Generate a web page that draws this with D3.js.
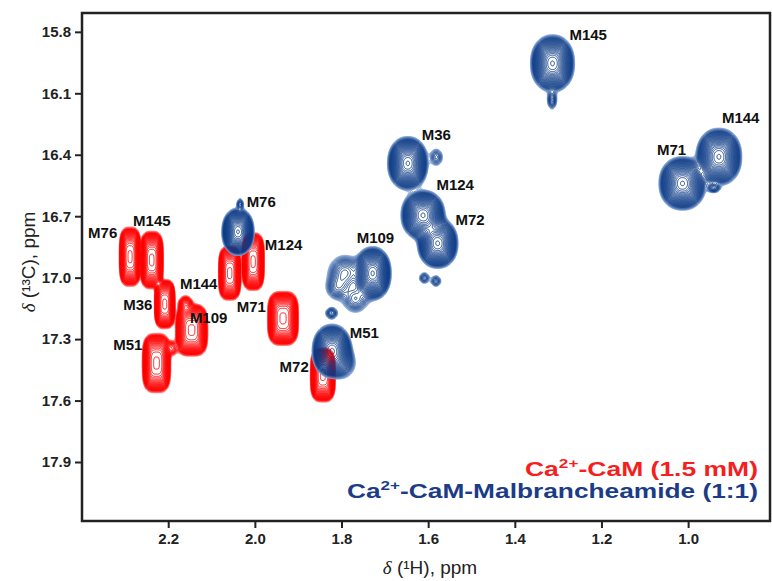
<!DOCTYPE html>
<html lang="en">
<head>
<meta charset="UTF-8">
<title>1H-13C methyl spectra</title>
<script src="https://cdnjs.cloudflare.com/ajax/libs/d3/7.8.5/d3.min.js"></script>
<style>
  body { margin: 0; background: #fff; }
  svg { display: block; font-family: "Liberation Sans", Arial, sans-serif; }
</style>
</head>
<body>
<svg id="chart" width="772" height="581"></svg>
<script>
// Peak labels (same order for both spectra)
var peakLabels = ["M76", "M145", "M36", "M109", "M51", "M144", "M124", "M71", "M72"];

// Ca2+-CaM (red): peak centres in ppm, full widths in ppm
var redH      = [2.288, 2.238, 2.208, 2.146, 2.227, 2.058, 2.004, 1.935, 1.843];
var redC      = [16.898, 16.914, 17.129, 17.256, 17.417, 16.978, 16.922, 17.199, 17.475];
var redWidthH = [0.050, 0.054, 0.048, 0.075, 0.066, 0.052, 0.052, 0.072, 0.058];
var redWidthC = [0.290, 0.282, 0.240, 0.255, 0.290, 0.265, 0.282, 0.265, 0.265];
var redLabelH = [2.385, 2.281, 2.304, 2.150, 2.327, 2.173, 1.977, 2.042, 1.943];
var redLabelC = [16.807, 16.748, 17.158, 17.222, 17.353, 17.053, 16.865, 17.168, 17.461];

// Ca2+-CaM-Malbrancheamide (blue)
var blueH      = [2.039, 1.313, 1.647, 1.728, 1.822, 0.929, 1.612, 1.013, 1.578];
var blueC      = [16.776, 15.954, 16.442, 16.979, 17.358, 16.410, 16.695, 16.540, 16.833];
var blueWidthH = [0.075, 0.102, 0.094, 0.086, 0.092, 0.106, 0.102, 0.109, 0.094];
var blueWidthC = [0.232, 0.280, 0.262, 0.262, 0.262, 0.280, 0.244, 0.262, 0.244];
var blueLabelH = [2.019, 1.274, 1.615, 1.765, 1.781, 0.922, 1.581, 1.072, 1.537];
var blueLabelC = [16.656, 15.841, 16.329, 16.831, 17.295, 16.246, 16.573, 16.402, 16.743];

// weak unlabeled signals
var redMinorH = [2.160, 2.191];
var redMinorC = [17.130, 17.344];
var redMinorWidthH = [0.045, 0.040];
var redMinorWidthC = [0.110, 0.110];
var redMinorAmp = [0.25, 0.15];
var blueMinorH = [1.792, 1.768, 1.810, 1.823, 1.314, 2.034, 0.941, 1.609, 1.582, 1.581, 1.795];
var blueMinorC = [16.975, 17.105, 17.050, 17.173, 16.134, 16.640, 16.563, 17.002, 17.017, 16.412, 17.420];
var blueMinorWidthH = [0.110, 0.090, 0.080, 0.045, 0.035, 0.025, 0.045, 0.040, 0.040, 0.050, 0.090];
var blueMinorWidthC = [0.240, 0.200, 0.180, 0.090, 0.140, 0.090, 0.070, 0.090, 0.090, 0.140, 0.220];
var blueMinorAmp = [0.18, 0.14, 0.12, 0.12, 0.12, 0.10, 0.12, 0.10, 0.10, 0.10, 0.10];

var xTicks = [2.2, 2.0, 1.8, 1.6, 1.4, 1.2, 1.0];
var yTicks = [15.8, 16.1, 16.4, 16.7, 17.0, 17.3, 17.6, 17.9];

var svg = d3.select('#chart');
var margin = { left: 82, top: 13, right: 2, bottom: 60 };
var W = 772 - margin.left - margin.right;
var H = 581 - margin.top - margin.bottom;

// ppm axes run backwards, as usual for NMR
var x = d3.scaleLinear().domain([2.399, 0.811]).range([0, W]);
var y = d3.scaleLinear().domain([15.708, 18.188]).range([0, H]);

var plot = svg.append('g').attr('transform', 'translate(' + margin.left + ',' + margin.top + ')');

svg.append('defs').append('clipPath').attr('id', 'clip')
    .append('rect').attr('width', W).attr('height', H);

// contour levels, geometric like a spectrum viewer
var nLevels = 34, low = 0.035, step = Math.pow(0.985 / low, 1 / (nLevels - 1));
var levels = d3.range(nLevels).map(function (k) { return low * Math.pow(step, k); });

function buildField(h, c, wh, wc, amp, p) {
    var vals = new Float64Array(W * H);
    var k = Math.pow(Math.log(1 / low), 1 / p);
    h.forEach(function (hv, i) {
        var cx = x(hv), cy = y(c[i]);
        var ax = Math.abs(x(hv + wh[i] / 2) - cx) / k;
        var ay = Math.abs(y(c[i] + wc[i] / 2) - cy) / k;
        var a = amp[i];
        var x0 = Math.max(0, Math.floor(cx - ax * 4)), x1 = Math.min(W - 1, Math.ceil(cx + ax * 4));
        var y0 = Math.max(0, Math.floor(cy - ay * 4)), y1 = Math.min(H - 1, Math.ceil(cy + ay * 4));
        for (var j = y0; j <= y1; j++) {
            var v = Math.pow(Math.abs((j + 0.5 - cy) / ay), p);
            for (var q = x0; q <= x1; q++) {
                var u = Math.pow(Math.abs((q + 0.5 - cx) / ax), p);
                vals[j * W + q] += a * Math.exp(-(u + v));
            }
        }
    });
    return vals;
}

function drawSpectrum(vals, outer, inner, cls) {
    var contours = d3.contours().size([W, H]).thresholds(levels)(vals);
    var col = d3.interpolateRgb(outer, inner);
    plot.append('g').attr('class', cls).attr('clip-path', 'url(#clip)')
        .selectAll('path').data(contours).join('path')
        .attr('d', d3.geoPath())
        .attr('fill', 'none')
        .attr('stroke', function (d, i) { return col(Math.min(1, i / 8)); })
        .attr('stroke-width', 0.9);
}

var ones = peakLabels.map(function () { return 1; });

var redVals = buildField(redH, redC, redWidthH, redWidthC, ones, 3.4);
var redMinor = buildField(redMinorH, redMinorC, redMinorWidthH, redMinorWidthC, redMinorAmp, 2);
for (var i = 0; i < redVals.length; i++) redVals[i] += redMinor[i];

var blueVals = buildField(blueH, blueC, blueWidthH, blueWidthC, ones, 2.2);
var blueMinor = buildField(blueMinorH, blueMinorC, blueMinorWidthH, blueMinorWidthC, blueMinorAmp, 2);
for (var i = 0; i < blueVals.length; i++) blueVals[i] += blueMinor[i];

drawSpectrum(redVals, '#ff9a9a', '#ff0000', 'red');
drawSpectrum(blueVals, '#86a8d8', '#0b3a86', 'blue');

// peak labels
function labels(h, c) {
    plot.append('g').selectAll('text').data(peakLabels).join('text')
        .attr('x', function (d, i) { return x(h[i]); })
        .attr('y', function (d, i) { return y(c[i]); })
        .attr('font-size', 15).attr('font-weight', 'bold').attr('fill', '#111')
        .text(function (d) { return d; });
}
labels(redLabelH, redLabelC);
labels(blueLabelH, blueLabelC);

// axes
var xAxis = plot.append('g').attr('transform', 'translate(0,' + H + ')')
    .call(d3.axisBottom(x).tickValues(xTicks).tickFormat(d3.format('.1f')).tickSize(7).tickPadding(5));
var yAxis = plot.append('g')
    .call(d3.axisLeft(y).tickValues(yTicks).tickFormat(d3.format('.1f')).tickSize(7).tickPadding(4));
[xAxis, yAxis].forEach(function (a) {
    a.select('.domain').remove();
    a.selectAll('line').attr('stroke', '#222').attr('stroke-width', 2);
    a.selectAll('text').attr('font-size', 15).attr('font-weight', 'bold').attr('fill', '#222')
        .attr('font-family', '"Liberation Sans", Arial, sans-serif');
});

plot.append('rect').attr('width', W).attr('height', H)
    .attr('fill', 'none').attr('stroke', '#222').attr('stroke-width', 2.5);

// axis titles
var xt = svg.append('text').attr('x', margin.left + W / 2 + 4).attr('y', 574)
    .attr('text-anchor', 'middle').attr('font-size', 19).attr('fill', '#222');
xt.append('tspan').attr('font-style', 'italic').attr('font-family', '"Liberation Serif", serif').text('δ');
xt.append('tspan').text(' (¹H), ppm');

var yt = svg.append('text').attr('transform', 'translate(35,262) rotate(-90)')
    .attr('text-anchor', 'middle').attr('font-size', 19).attr('fill', '#222');
yt.append('tspan').attr('font-style', 'italic').attr('font-family', '"Liberation Serif", serif').text('δ');
yt.append('tspan').text(' (¹³C), ppm');

// legend
var legend = [
    { text: ['Ca', '2+', '-CaM (1.5 mM)'], color: '#f51f1f', y: 476, len: 233 },
    { text: ['Ca', '2+', '-CaM-Malbrancheamide (1:1)'], color: '#1b3c87', y: 498, len: 411 }
];
legend.forEach(function (l) {
    var t = svg.append('text').attr('x', 758).attr('y', l.y).attr('text-anchor', 'end')
        .attr('font-size', 20).attr('font-weight', 'bold').attr('fill', l.color)
        .attr('textLength', l.len).attr('lengthAdjust', 'spacingAndGlyphs');
    t.append('tspan').text(l.text[0]);
    t.append('tspan').attr('font-size', 13).attr('dy', -8).text(l.text[1]);
    t.append('tspan').attr('dy', 8).text(l.text[2]);
});
</script>
</body>
</html>
